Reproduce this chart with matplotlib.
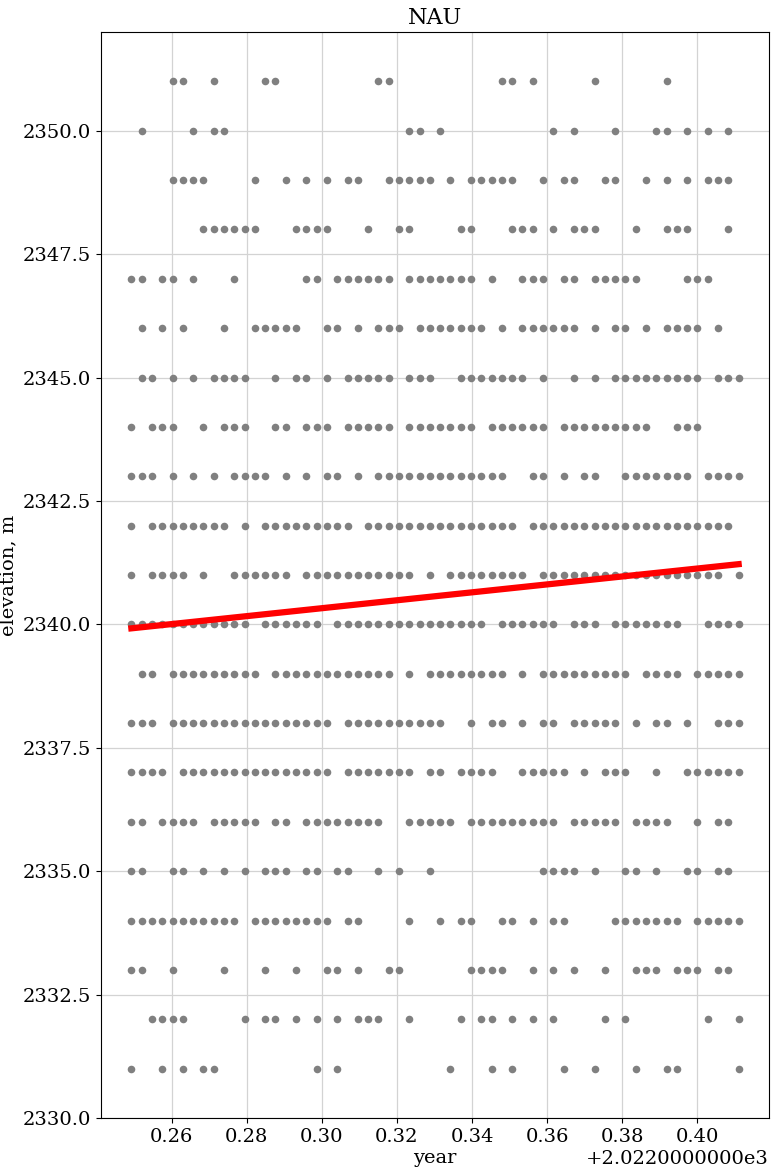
import math

import numpy as np
import matplotlib
matplotlib.use("Agg")
import matplotlib.pyplot as plt
from matplotlib.ticker import ScalarFormatter

# daily samples, starting at day-of-year 91 of 2022
year = 2022
first_day = 91

elevations = [2351, 2350, 2349, 2348, 2347, 2346, 2345, 2344, 2343, 2342, 2341,
              2340, 2339, 2338, 2337, 2336, 2335, 2334, 2333, 2332, 2331]

# day offsets (from first_day) at which each elevation was recorded
day_offsets = [
    [4, 5, 8, 13, 14, 24, 25, 36, 37, 39, 45, 52],
    [1, 6, 8, 9, 27, 28, 30, 41, 43, 47, 51, 52, 54, 56, 58],
    [4, 5, 6, 7, 12, 15, 17, 19, 21, 22, 25, 26, 27, 28, 29, 31, 33, 34, 35, 36, 37,
     40, 42, 43, 46, 47, 50, 52, 54, 56, 57, 58],
    [7, 8, 9, 10, 11, 12, 16, 17, 18, 19, 23, 26, 27, 32, 33, 37, 38, 39, 41, 43, 44,
     45, 49, 52, 53, 54, 58],
    [0, 1, 3, 4, 6, 10, 17, 18, 20, 21, 22, 23, 24, 25, 27, 28, 29, 30, 31, 32, 33,
     35, 38, 39, 40, 42, 43, 45, 46, 47, 48, 49, 54, 55, 56],
    [1, 3, 5, 9, 12, 13, 14, 15, 16, 19, 20, 22, 24, 25, 26, 28, 29, 30, 31, 32, 33,
     34, 36, 38, 39, 40, 41, 42, 43, 45, 47, 48, 50, 52, 53, 54, 55, 57],
    [1, 2, 4, 6, 8, 9, 10, 11, 14, 16, 17, 19, 21, 22, 23, 24, 25, 27, 28, 29, 32,
     33, 34, 35, 36, 37, 38, 40, 43, 45, 47, 48, 49, 50, 51, 52, 53, 54, 55, 57, 58, 59],
    [0, 2, 3, 4, 7, 9, 10, 11, 14, 15, 17, 18, 19, 21, 22, 23, 24, 25, 27, 28, 29,
     30, 31, 32, 33, 35, 36, 37, 38, 39, 40, 42, 43, 44, 45, 46, 47, 48, 49, 50, 53,
     54, 55],
    [0, 1, 2, 4, 6, 8, 10, 11, 12, 13, 15, 17, 19, 20, 22, 24, 25, 26, 27, 28, 29,
     30, 31, 32, 33, 34, 35, 36, 39, 40, 42, 44, 45, 48, 49, 50, 51, 52, 53, 54, 56,
     57, 58, 59],
    [0, 2, 3, 4, 5, 6, 7, 8, 9, 11, 13, 14, 15, 16, 17, 18, 19, 20, 21, 23, 24, 25,
     26, 27, 28, 29, 30, 31, 32, 33, 34, 35, 36, 37, 39, 40, 41, 42, 43, 44, 45, 46,
     47, 48, 49, 50, 51, 52, 53, 54, 55, 56, 57, 58],
    [0, 2, 3, 4, 5, 7, 10, 11, 12, 13, 14, 15, 17, 18, 19, 20, 21, 22, 23, 24, 25,
     26, 27, 29, 31, 32, 33, 34, 35, 36, 37, 38, 40, 41, 42, 43, 44, 45, 46, 47, 48,
     49, 50, 51, 52, 53, 54, 55, 56, 57, 59],
    [0, 1, 2, 3, 4, 5, 6, 7, 8, 9, 10, 11, 13, 14, 15, 16, 17, 18, 20, 21, 22, 23,
     24, 25, 26, 27, 28, 29, 30, 31, 32, 33, 34, 36, 37, 38, 39, 40, 41, 43, 44, 45,
     47, 48, 49, 50, 51, 52, 53, 56, 57, 58, 59],
    [1, 2, 4, 5, 6, 7, 8, 9, 10, 11, 12, 14, 15, 16, 17, 18, 19, 20, 21, 22, 23, 24,
     25, 27, 29, 30, 31, 32, 33, 34, 35, 36, 38, 40, 41, 42, 43, 44, 45, 46, 47, 48,
     50, 51, 52, 53, 55, 56, 57, 58, 59],
    [0, 1, 2, 4, 5, 6, 7, 8, 9, 10, 11, 12, 13, 14, 15, 16, 17, 18, 19, 21, 22, 23,
     24, 25, 26, 27, 28, 29, 30, 33, 35, 36, 38, 40, 41, 43, 44, 45, 46, 47, 49, 51,
     52, 54, 57, 58, 59],
    [0, 1, 2, 3, 5, 6, 7, 8, 9, 10, 11, 12, 13, 14, 15, 16, 17, 18, 19, 21, 22, 23,
     24, 25, 26, 27, 29, 30, 32, 33, 34, 35, 38, 39, 40, 41, 42, 44, 46, 47, 48, 51,
     54, 55, 56, 57, 58, 59],
    [0, 1, 3, 4, 5, 6, 8, 9, 10, 11, 12, 14, 15, 17, 18, 19, 20, 21, 22, 23, 24, 27,
     28, 29, 30, 31, 33, 34, 35, 36, 37, 38, 39, 40, 41, 43, 44, 45, 46, 47, 49, 50,
     51, 52, 55, 57, 58],
    [0, 1, 4, 5, 7, 9, 11, 13, 14, 15, 17, 18, 20, 21, 24, 26, 29, 40, 41, 42, 43,
     45, 48, 49, 51, 54, 55, 57, 58],
    [0, 1, 2, 3, 4, 5, 6, 7, 8, 9, 10, 12, 13, 14, 15, 16, 17, 18, 19, 21, 22, 27,
     30, 32, 33, 36, 37, 39, 41, 42, 47, 48, 49, 50, 51, 52, 53, 55, 56, 57, 58, 59],
    [0, 1, 4, 9, 13, 16, 19, 20, 22, 25, 26, 33, 34, 35, 36, 39, 41, 43, 46, 49, 50,
     51, 53, 54, 55, 57, 58],
    [2, 3, 4, 5, 11, 13, 14, 16, 18, 20, 22, 23, 24, 27, 32, 34, 35, 37, 39, 41, 46,
     48, 56, 59],
    [0, 3, 5, 7, 8, 18, 20, 31, 35, 37, 42, 45, 49, 52, 53, 59],
]

# linear trend, read at the first and last sample day
trend_days = [0, 59]
trend_elevation = [2339.92, 2341.22]


class OffsetFormatter(ScalarFormatter):
    # offset written as mantissa with ten decimals, e.g. +2.0220000000e3
    def get_offset(self):
        if not self.offset:
            return ""
        exp = int(math.floor(math.log10(abs(self.offset))))
        return "+{:.10f}e{}".format(self.offset / 10 ** exp, exp)


def to_year(days):
    return year + (first_day + np.asarray(days, dtype=float)) / 365.0


def main():
    plt.rcParams["font.family"] = "DejaVu Serif"
    plt.rcParams["font.size"] = 14

    x = np.concatenate([to_year(d) for d in day_offsets])
    y = np.concatenate([[e] * len(d) for e, d in zip(elevations, day_offsets)])

    fig = plt.figure(figsize=(7.77, 11.74), dpi=100)
    ax = fig.add_axes([0.130, 0.0477, 0.8597, 0.925])

    ax.scatter(x, y, s=30, color="gray", linewidths=0, zorder=2)
    ax.plot(to_year(trend_days), trend_elevation, color="red", linewidth=4.5, zorder=3)

    ax.grid(True, color="lightgray", linewidth=0.9)
    ax.set_axisbelow(True)
    ax.xaxis.set_major_formatter(OffsetFormatter(useOffset=True))

    ax.set_title("NAU", fontsize=16)
    ax.set_xlabel("year", labelpad=2)
    ax.set_ylabel("elevation, m")
    ax.yaxis.set_label_coords(-0.125, 0.5)

    fig.savefig("out.png", dpi=100)


if __name__ == "__main__":
    main()
